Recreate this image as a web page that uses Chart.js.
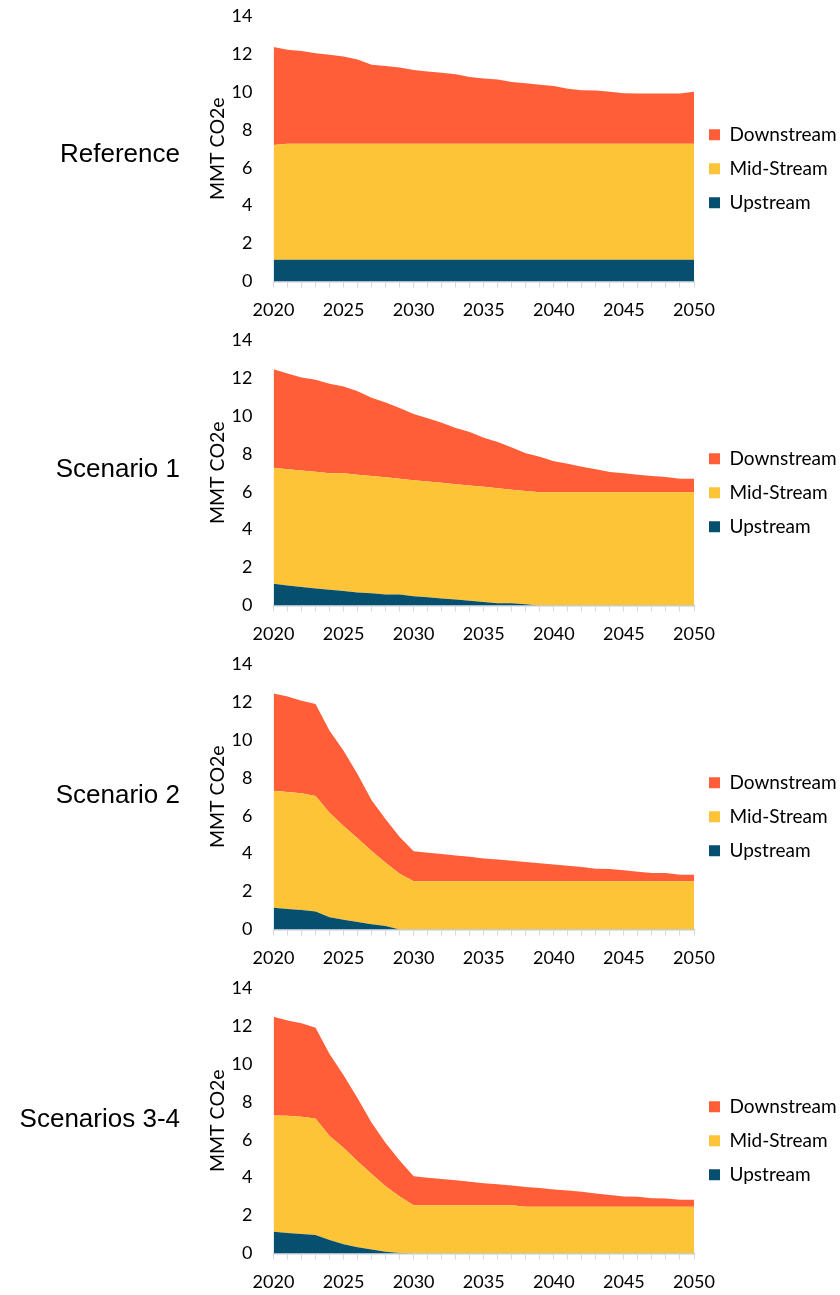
<!DOCTYPE html>
<html>
<head>
<meta charset="utf-8">
<title>Emissions by segment</title>
<script src="https://cdn.jsdelivr.net/npm/chart.js@4.4.0/dist/chart.umd.min.js"></script>
<style>
    body { margin: 0; background: #fff; width: 840px; height: 1295px; overflow: hidden; }
    .panel { position: absolute; left: 0; width: 840px; height: 324px; }
    .scenario {
        position: absolute;
        right: 660px;
        font-family: "Liberation Sans", Arial, sans-serif;
        font-size: 26px;
        line-height: 30px;
        color: #000;
        white-space: nowrap;
    }
</style>
</head>
<body>
<div class="panel" style="top:0px"><canvas id="chartReference" width="840" height="324"></canvas></div>
<div class="panel" style="top:324px"><canvas id="chartScenario1" width="840" height="324"></canvas></div>
<div class="panel" style="top:648px"><canvas id="chartScenario2" width="840" height="324"></canvas></div>
<div class="panel" style="top:972px"><canvas id="chartScenario34" width="840" height="324"></canvas></div>

<div class="scenario" style="top:138px">Reference</div>
<div class="scenario" style="top:453px">Scenario 1</div>
<div class="scenario" style="top:779px">Scenario 2</div>
<div class="scenario" style="top:1103px">Scenarios 3-4</div>

<script>
// Years on the x axis (one point per year)
const years = [2020, 2021, 2022, 2023, 2024, 2025, 2026, 2027, 2028, 2029,
               2030, 2031, 2032, 2033, 2034, 2035, 2036, 2037, 2038, 2039,
               2040, 2041, 2042, 2043, 2044, 2045, 2046, 2047, 2048, 2049, 2050];
const labeledYears = [2020, 2025, 2030, 2035, 2040, 2045, 2050];
const yTicks = [0, 2, 4, 6, 8, 10, 12, 14];

// Reference (MMT CO2e)
const refUpstream = [1.15, 1.15, 1.15, 1.15, 1.15, 1.15, 1.15, 1.15, 1.15, 1.15,
                     1.15, 1.15, 1.15, 1.15, 1.15, 1.15, 1.15, 1.15, 1.15, 1.15,
                     1.15, 1.15, 1.15, 1.15, 1.15, 1.15, 1.15, 1.15, 1.15, 1.15, 1.15];
const refMidstream = [6.05, 6.12, 6.12, 6.12, 6.12, 6.12, 6.12, 6.12, 6.12, 6.12,
                      6.12, 6.12, 6.12, 6.12, 6.12, 6.12, 6.12, 6.12, 6.12, 6.12,
                      6.12, 6.12, 6.12, 6.12, 6.12, 6.12, 6.12, 6.12, 6.12, 6.12, 6.12];
const refDownstream = [5.16, 4.95, 4.88, 4.76, 4.69, 4.60, 4.44, 4.16, 4.09, 4.01,
                       3.88, 3.81, 3.74, 3.66, 3.52, 3.44, 3.38, 3.25, 3.18, 3.11,
                       3.04, 2.90, 2.81, 2.80, 2.73, 2.66, 2.64, 2.64, 2.64, 2.64, 2.73];

// Scenario 1
const s1Upstream = [1.15, 1.06, 0.97, 0.90, 0.83, 0.76, 0.69, 0.64, 0.58, 0.58,
                    0.49, 0.43, 0.37, 0.31, 0.25, 0.19, 0.12, 0.12, 0.06, 0,
                    0, 0, 0, 0, 0, 0, 0, 0, 0, 0, 0];
const s1Midstream = [6.11, 6.13, 6.15, 6.15, 6.15, 6.21, 6.21, 6.19, 6.18, 6.10,
                     6.12, 6.11, 6.10, 6.09, 6.08, 6.07, 6.06, 5.99, 5.98, 5.97,
                     5.97, 5.97, 5.97, 5.97, 5.97, 5.97, 5.97, 5.97, 5.97, 5.97, 5.97];
const s1Downstream = [5.20, 5.05, 4.90, 4.85, 4.71, 4.58, 4.40, 4.13, 3.94, 3.74,
                      3.49, 3.33, 3.17, 2.96, 2.82, 2.59, 2.44, 2.22, 1.99, 1.87,
                      1.64, 1.50, 1.34, 1.22, 1.07, 1.00, 0.93, 0.86, 0.81, 0.72, 0.72];

// Scenario 2
const s2Upstream = [1.15, 1.08, 1.03, 0.95, 0.64, 0.51, 0.40, 0.28, 0.18, 0,
                    0, 0, 0, 0, 0, 0, 0, 0, 0, 0,
                    0, 0, 0, 0, 0, 0, 0, 0, 0, 0, 0];
const s2Midstream = [6.16, 6.17, 6.15, 6.09, 5.52, 4.95, 4.41, 3.86, 3.34, 2.94,
                     2.55, 2.55, 2.55, 2.55, 2.55, 2.55, 2.55, 2.55, 2.55, 2.55,
                     2.55, 2.55, 2.55, 2.55, 2.55, 2.55, 2.55, 2.55, 2.55, 2.55, 2.55];
const s2Downstream = [5.14, 5.04, 4.88, 4.85, 4.32, 3.96, 3.38, 2.67, 2.29, 1.94,
                      1.57, 1.50, 1.43, 1.35, 1.28, 1.20, 1.14, 1.07, 1.01, 0.94,
                      0.88, 0.81, 0.74, 0.65, 0.64, 0.57, 0.50, 0.43, 0.43, 0.34, 0.34];

// Scenarios 3-4
const s34Upstream = [1.15, 1.08, 1.03, 0.97, 0.71, 0.49, 0.33, 0.21, 0.09, 0.03,
                     0, 0, 0, 0, 0, 0, 0, 0, 0, 0,
                     0, 0, 0, 0, 0, 0, 0, 0, 0, 0, 0];
const s34Midstream = [6.13, 6.19, 6.18, 6.15, 5.48, 5.08, 4.53, 3.98, 3.45, 2.97,
                      2.55, 2.55, 2.55, 2.55, 2.55, 2.55, 2.55, 2.55, 2.47, 2.47,
                      2.47, 2.47, 2.47, 2.47, 2.47, 2.47, 2.47, 2.47, 2.47, 2.47, 2.47];
const s34Downstream = [5.20, 5.02, 4.93, 4.79, 4.33, 3.83, 3.32, 2.70, 2.29, 1.90,
                       1.52, 1.45, 1.38, 1.31, 1.24, 1.16, 1.10, 1.03, 1.04, 0.98,
                       0.91, 0.85, 0.78, 0.70, 0.62, 0.53, 0.52, 0.44, 0.43, 0.37, 0.36];

const colors = {
    upstream: '#064f6e',
    midstream: '#fec437',
    downstream: '#ff5e38'
};

const axisFont = { family: 'Lato', size: 18 };

// Build one stacked area chart
function createAreaChart(canvasId, upstream, midstream, downstream) {
    const ctx = document.getElementById(canvasId);

    return new Chart(ctx, {
        type: 'line',
        data: {
            labels: years,
            datasets: [
                { label: 'Upstream', data: upstream, backgroundColor: colors.upstream, fill: 'origin' },
                { label: 'Mid-Stream', data: midstream, backgroundColor: colors.midstream, fill: '-1' },
                { label: 'Downstream', data: downstream, backgroundColor: colors.downstream, fill: '-1' }
            ]
        },
        options: {
            responsive: false,
            animation: false,
            elements: {
                point: { radius: 0 },
                line: { borderWidth: 0, borderColor: 'rgba(0,0,0,0)', tension: 0 }
            },
            layout: {
                padding: { top: 16, bottom: 2.5, left: 202, right: 0 }
            },
            plugins: {
                legend: {
                    position: 'right',
                    reverse: true,
                    maxWidth: 146,
                    labels: {
                        boxWidth: 11,
                        boxHeight: 11,
                        padding: 15,
                        color: '#000',
                        font: { family: 'Lato', size: 19 }
                    }
                },
                tooltip: { enabled: false }
            },
            scales: {
                x: {
                    grid: {
                        drawOnChartArea: false,
                        drawTicks: true,
                        tickLength: 6,
                        color: '#d9d9d9'
                    },
                    border: { display: true, color: '#c3ccd2', width: 1.5 },
                    ticks: {
                        autoSkip: false,
                        maxRotation: 0,
                        padding: 12,
                        color: '#000',
                        font: axisFont,
                        callback: function(value, index) {
                            return labeledYears.includes(years[index]) ? String(years[index]) : '';
                        }
                    },
                    // tick marks + padding + one line of labels
                    afterFit: function(scale) {
                        scale.height = 40;
                    }
                },
                y: {
                    stacked: true,
                    min: yTicks[0],
                    max: yTicks[yTicks.length - 1],
                    afterBuildTicks: function(scale) {
                        scale.ticks = yTicks.map(v => ({ value: v }));
                    },
                    grid: { display: false, drawTicks: false },
                    border: { display: false },
                    ticks: {
                        padding: 21,
                        color: '#000',
                        font: axisFont
                    },
                    title: {
                        display: true,
                        text: 'MMT CO2e',
                        color: '#000',
                        font: { family: 'Lato', size: 19.5 }
                    },
                    // keep the label gap without widening the axis box
                    afterFit: function(scale) {
                        scale.width = 71.5;
                        scale.paddingTop = 11;
                        scale.paddingBottom = 11;
                    }
                }
            }
        }
    });
}

createAreaChart('chartReference', refUpstream, refMidstream, refDownstream);
createAreaChart('chartScenario1', s1Upstream, s1Midstream, s1Downstream);
createAreaChart('chartScenario2', s2Upstream, s2Midstream, s2Downstream);
createAreaChart('chartScenario34', s34Upstream, s34Midstream, s34Downstream);
</script>
</body>
</html>
